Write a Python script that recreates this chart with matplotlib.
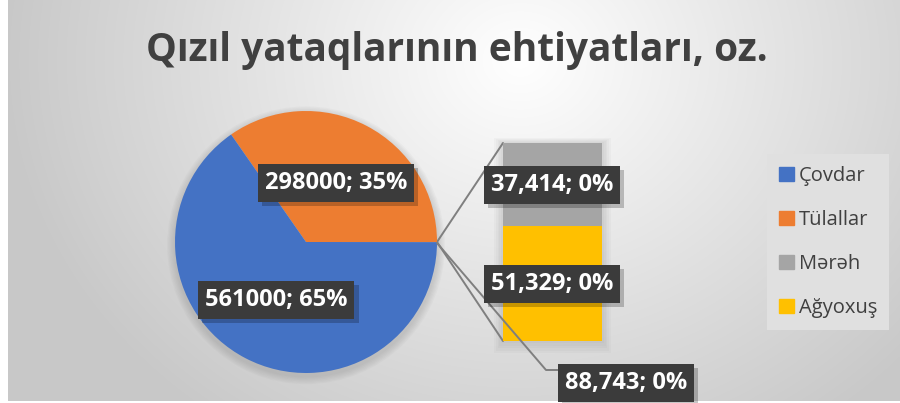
import numpy as np
import matplotlib
matplotlib.use("Agg")
from matplotlib import pyplot as plt
from matplotlib.patches import ConnectionPatch, Patch, Circle, Rectangle
from matplotlib import patheffects as pe

plt.rcParams['font.family'] = ['Open Sans', 'DejaVu Sans']

# data
pie_names = ["Çovdar", "Tülallar"]
pie_values = [561000, 298000]
bar_names = ["Mərəh", "Ağyoxuş"]
bar_values = [37.414, 51.329]
colors = {"Çovdar": "#4472C4", "Tülallar": "#ED7D31",
          "Mərəh": "#A5A5A5", "Ağyoxuş": "#FFC000"}
title = "Qızıl yataqlarının ehtiyatları, oz."

W, H = 900, 403
other = sum(bar_values)
total = sum(pie_values) + other


def fmt(v):
    if float(v).is_integer():
        s = "%d" % v
    else:
        s = ("%.3f" % v).replace(".", ",")
    return "%s; %d%%" % (s, round(v / total * 100))


fig = plt.figure(figsize=(W / 100, H / 100), dpi=100)

# background with radial gradient
bg = fig.add_axes([0, 0, 1, 1], zorder=0)
yy, xx = np.mgrid[0:H, 0:W]
r = np.sqrt(((xx - 520) / 520.0) ** 2 + ((yy - 60) / 450.0) ** 2)
shade = 255 - 55 * np.clip(r, 0, 1)
img = np.dstack([shade, shade, shade]) / 255.0
img[:, :8] = 1.0
img[401:, :] = 1.0
bg.imshow(img, extent=(0, W, H, 0), aspect="auto", interpolation="bilinear")
bg.set_xlim(0, W)
bg.set_ylim(H, 0)
bg.axis("off")


def px(x, y, w, h):
    return [x / W, (H - y - h) / H, w / W, h / H]


# pie
ax1 = fig.add_axes(px(175, 111, 262, 262), zorder=2)
for i in range(6, 0, -1):
    ax1.add_patch(Circle((0.0, -0.025), 1 + i * 0.01, color="#808080",
                         alpha=0.05, lw=0, clip_on=False))
wedges, _ = ax1.pie([pie_values[1], pie_values[0], other],
                    colors=[colors["Tülallar"], colors["Çovdar"], "#A5A5A5"],
                    startangle=0, counterclock=True, radius=1)
ax1.set_xlim(-1, 1)
ax1.set_ylim(-1, 1)
ax1.set_aspect("equal")

# bar of the "other" slice
ax2 = fig.add_axes(px(503, 143, 99, 198), zorder=2)
for i in range(5, 0, -1):
    dx = i * 0.018
    dy = i * 0.009 * other
    ax2.add_patch(Rectangle((-0.5 - dx, -dy * 1.4), 1 + 2 * dx, other + dy * 2,
                            color="#808080", alpha=0.05, lw=0, clip_on=False,
                            zorder=0))
bottom = 0
for name in bar_names[::-1]:
    v = bar_values[bar_names.index(name)]
    ax2.bar(0, v, width=1, bottom=bottom, color=colors[name], lw=0, zorder=2)
    bottom += v
ax2.set_xlim(-0.5, 0.5)
ax2.set_ylim(0, other)
ax2.axis("off")

# connector lines
for yb in (other, 0):
    con = ConnectionPatch(xyA=(1, 0), coordsA=ax1.transData,
                          xyB=(-0.5, yb), coordsB=ax2.transData,
                          color="#7F7F7F", lw=1.4)
    fig.add_artist(con)

# labels on top
top = fig.add_axes([0, 0, 1, 1], zorder=5)
top.set_xlim(0, W)
top.set_ylim(H, 0)
top.axis("off")
top.patch.set_alpha(0)

box = dict(boxstyle="square,pad=0.3", fc="#3B3B3B", ec="none", lw=0)
shadow = [pe.SimplePatchShadow(offset=(3, -3), shadow_rgbFace="#000000",
                               alpha=0.22),
          pe.Normal()]


def label(x, y, s):
    t = top.text(x, y, s, ha="center", va="center", color="white",
                 fontsize=17, fontweight="bold", bbox=box, zorder=6)
    t.get_bbox_patch().set_path_effects(shadow)
    return t


label(336, 183, fmt(pie_values[1]))
label(276, 300, fmt(pie_values[0]))
seg_px = 198 / other
label(552, 143 + bar_values[0] * seg_px / 2, fmt(bar_values[0]))
label(552, 341 - bar_values[1] * seg_px / 2, fmt(bar_values[1]))

top.plot([437, 546, 557], [243, 370, 370], color="#7F7F7F", lw=1.4, zorder=5)
label(626, 383, fmt(other))

# title
fig.text(457 / W, 1 - 50 / H, title, ha="center", va="center",
         fontsize=28, fontweight="bold", color="#404040", zorder=6)

# legend
handles = [Patch(color=colors[n]) for n in pie_names + bar_names]
leg = fig.legend(handles, pie_names + bar_names, loc="center left",
                 bbox_to_anchor=(767 / W, 1 - 242 / H), frameon=True,
                 facecolor="#E0E0E0", edgecolor="none", framealpha=1,
                 fancybox=False, fontsize=14.5, handlelength=0.72,
                 handleheight=0.72, handletextpad=0.25, labelspacing=1.2,
                 borderaxespad=0, borderpad=0.6, labelcolor="#404040")
leg.set_zorder(6)

fig.savefig("out.png", dpi=100)
